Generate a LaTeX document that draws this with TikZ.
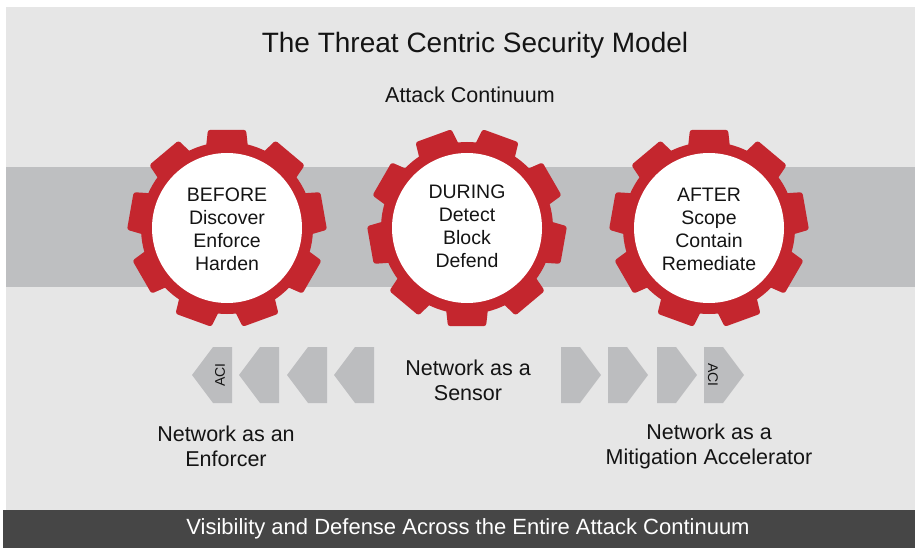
\documentclass[tikz,border=0pt]{standalone}
\usepackage{fontspec}
\setmainfont{Liberation Sans}
\usetikzlibrary{positioning,calc}
\definecolor{bggray}{RGB}{230,230,230}
\definecolor{bandgray}{RGB}{190,191,193}
\definecolor{chevgray}{RGB}{188,189,191}
\definecolor{gearred}{RGB}{196,38,46}
\definecolor{bardark}{RGB}{70,70,70}
\definecolor{textblack}{RGB}{20,20,20}

\begin{document}
\begin{tikzpicture}[x=1pt, y=-1pt]
\tikzset{
    mytitle/.style={font=\fontsize{28}{32}\selectfont, text=textblack},
    mylabel/.style={font=\fontsize{21.5}{25}\selectfont, text=textblack, align=center},
    mygear/.style={fill=gearred},
    mygeartext/.style={font=\fontsize{19.5}{23}\selectfont, text=textblack, align=center},
    mychevron/.style={fill=chevgray},
    myaci/.style={font=\fontsize{14}{16}\selectfont, text=textblack}
}
\useasboundingbox (0,0) rectangle (915,548);
\fill[white] (0,0) rectangle (915,548);
\fill[bggray] (6,7) rectangle (915,510);
\fill[bandgray] (6,167) rectangle (915,287);
\fill[bardark] (3,510) rectangle (915,548);

% the three gears, teeth every 40 degrees
\foreach \gname/\gx/\grot in {before/227/30, during/467/10, after/709/30} {
  \coordinate (g\gname) at (\gx,228);
  \fill[mygear] (g\gname) circle (86pt);
  \foreach \k in {0,...,8} {
    \pgfmathsetmacro\ga{\grot+40*\k}
    \fill[mygear, rounded corners=2.5pt] ($(g\gname)+(\ga-15.5:80)$) -- ($(g\gname)+(\ga-11:100)$)
      -- ($(g\gname)+(\ga+11:100)$) -- ($(g\gname)+(\ga+15.5:80)$) -- cycle;
  }
  \fill[white] (g\gname) circle (75pt);
}

\node[mytitle] (title) at (475,45) {The Threat Centric Security Model};
\node[mylabel] (attack) at (470,95) {Attack Continuum};

\node[mygeartext] (before) at (227,229) {BEFORE\\Discover\\Enforce\\Harden};
\node[mygeartext] (during) at (467,226) {DURING\\Detect\\Block\\Defend};
\node[mygeartext] (after) at (709,229) {AFTER\\Scope\\Contain\\Remediate};

% chevrons pointing away from the sensor
\foreach \cx in {192,239,287,334}
  \fill[mychevron] (\cx,375) -- (\cx+21,347) -- (\cx+40,347) -- (\cx+40,403) -- (\cx+21,403) -- cycle;
\foreach \cx in {561,608,657,704}
  \fill[mychevron] (\cx,347) -- (\cx+19,347) -- (\cx+40,375) -- (\cx+19,403) -- (\cx,403) -- cycle;
\node[myaci, rotate=90] (acileft) at (220,375) {ACI};
\node[myaci, rotate=-90] (aciright) at (713,375) {ACI};

\node[mylabel] (sensor) at (468,380) {Network as a\\Sensor};
\node[mylabel] (enforcer) at (226,446) {Network as an\\Enforcer};
\node[mylabel] (mitigation) at (709,446) {Network as a\\Mitigation Accelerator};

\node[font=\fontsize{22}{26}\selectfont, text=white] (footer) at (468,529) {Visibility and Defense Across the Entire Attack Continuum};
\end{tikzpicture}
\end{document}
